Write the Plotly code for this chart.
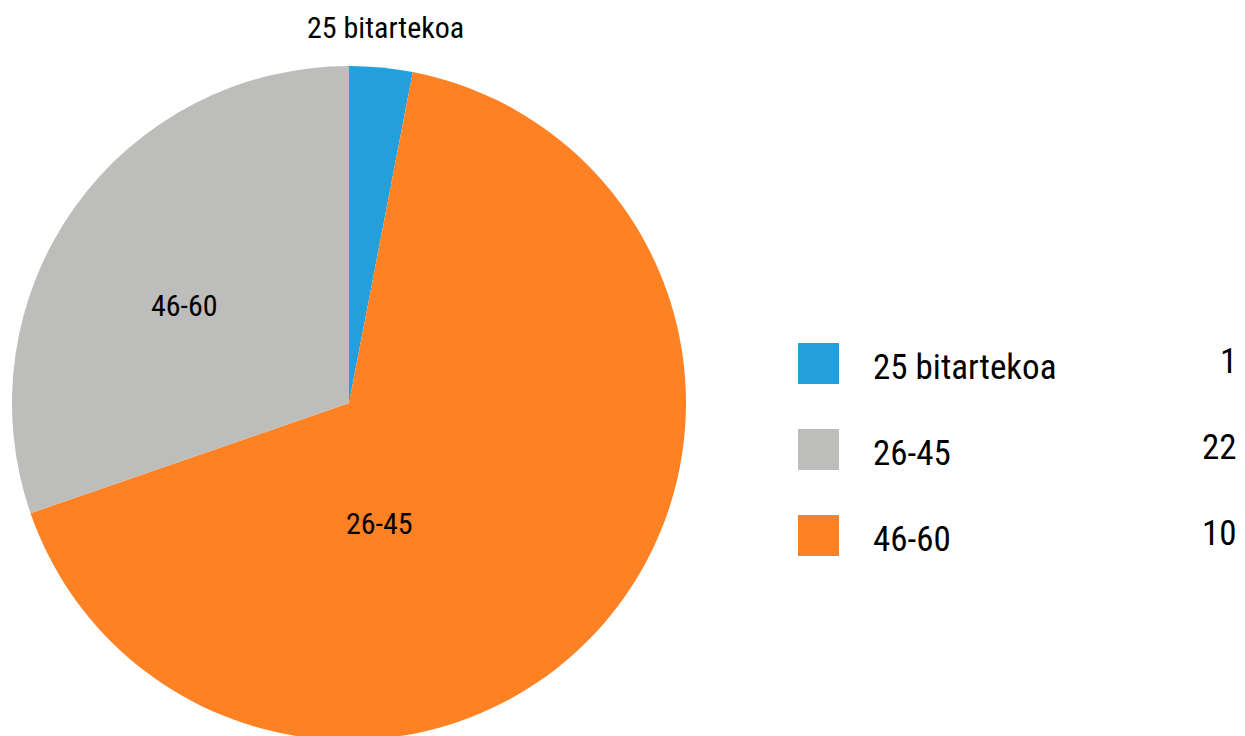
import plotly.graph_objects as go

# Data
slice_labels = ["25 bitartekoa", "26-45", "46-60"]
slice_values = [1, 22, 10]
slice_colors = ["#239fdb", "#fe8124", "#bdbdbc"]

legend_labels = ["25 bitartekoa", "26-45", "46-60"]
legend_values = [1, 22, 10]
legend_colors = ["#239fdb", "#bdbdbc", "#fe8124"]

# figure drawn from the page's top-left corner (body margin removed);
# a little taller than the window so the pie can run off the bottom edge
W, H = 1245, 750
FONT = "Liberation Sans Narrow, Roboto Condensed, DejaVu Sans Condensed, sans-serif"

def px(x):
    return x / W

def py(y):
    return 1 - y / H

fig = go.Figure()
fig.add_trace(go.Pie(
    labels=slice_labels,
    values=slice_values,
    marker=dict(colors=slice_colors, line=dict(width=0)),
    sort=False,
    direction="clockwise",
    rotation=0,
    textinfo="none",
    hoverinfo="label+value",
    showlegend=False,
    domain=dict(x=[px(12), px(686)], y=[py(740), py(66)]),
))

annotations = []
# slice labels
label_pos = [(385, 27), (379, 523), (184, 305)]
for lab, (x, y) in zip(slice_labels, label_pos):
    annotations.append(dict(
        x=px(x), y=py(y), xref="paper", yref="paper", text=lab, showarrow=False,
        xanchor="center", yanchor="middle", font=dict(family=FONT, size=30, color="#000000")))

shapes = []
row_y = [364, 450, 536]
for lab, val, col, yc in zip(legend_labels, legend_values, legend_colors, row_y):
    shapes.append(dict(type="rect", xref="paper", yref="paper",
                       x0=px(798), x1=px(839), y0=py(yc - 21), y1=py(yc + 20),
                       fillcolor=col, line=dict(width=0)))
    annotations.append(dict(
        x=px(871), y=py(yc + 3), xref="paper", yref="paper", text=lab, showarrow=False,
        xanchor="left", yanchor="middle", font=dict(family=FONT, size=35, color="#000000")))
    annotations.append(dict(
        x=px(1239), y=py(yc - 3), xref="paper", yref="paper", text=str(val), showarrow=False,
        xanchor="right", yanchor="middle", font=dict(family=FONT, size=35, color="#000000")))

fig.update_layout(
    width=W, height=H,
    margin=dict(l=0, r=0, t=0, b=0),
    paper_bgcolor="white",
    plot_bgcolor="white",
    annotations=annotations,
    shapes=shapes,
    font=dict(family=FONT),
)

fig.write_html(
    "out.html",
    config={"displayModeBar": False},
    post_script=(
        "document.body.style.margin='0';"
        "document.body.style.overflow='hidden';"
        "document.documentElement.style.overflow='hidden';"
    ),
)
